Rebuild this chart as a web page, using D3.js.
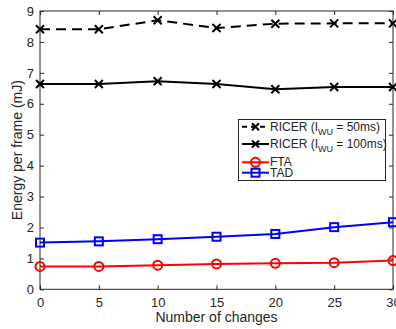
<!DOCTYPE html>
<html><head><meta charset="utf-8">
<script src="https://cdn.jsdelivr.net/npm/d3@7"></script>
<style>body{margin:0;background:#fff}svg{display:block;font-family:"Liberation Sans",Arial,sans-serif}</style>
</head><body><svg id="c" width="396" height="329"></svg>
<script>
const xValues = [0, 5, 10, 15, 20, 25, 30];
const ricer50 = [8.41, 8.41, 8.70, 8.45, 8.59, 8.60, 8.60];
const ricer100 = [6.64, 6.64, 6.73, 6.64, 6.47, 6.54, 6.54];
const fta = [0.74, 0.74, 0.78, 0.82, 0.84, 0.86, 0.93];
const tad = [1.51, 1.55, 1.62, 1.70, 1.79, 2.01, 2.17];
const xTicks = [0, 5, 10, 15, 20, 25, 30];
const yTicks = [0, 1, 2, 3, 4, 5, 6, 7, 8, 9];

const svg = d3.select("#c");
const L = 40, R = 393, T = 11, B = 289.3;
const x = d3.scaleLinear().domain([0, 30]).range([L, R]);
const y = d3.scaleLinear().domain([0, 9]).range([B, T]);
const axCol = "#262626";

// box
svg.append("rect").attr("x", L).attr("y", T).attr("width", R - L).attr("height", B - T)
  .attr("fill", "none").attr("stroke", axCol).attr("stroke-width", 1);

const tl = 4;
const gx = svg.append("g").attr("transform", `translate(0,${B})`)
  .call(d3.axisBottom(x).tickValues(xTicks).tickSizeInner(-tl).tickSizeOuter(0).tickPadding(8));
const gy = svg.append("g").attr("transform", `translate(${L},0)`)
  .call(d3.axisLeft(y).tickValues(yTicks).tickSizeInner(-tl).tickSizeOuter(0).tickPadding(6));
svg.append("g").attr("transform", `translate(0,${T})`)
  .call(d3.axisTop(x).tickValues(xTicks).tickSizeInner(-tl).tickSizeOuter(0).tickFormat(""));
svg.append("g").attr("transform", `translate(${R},0)`)
  .call(d3.axisRight(y).tickValues(yTicks).tickSizeInner(-tl).tickSizeOuter(0).tickFormat(""));
svg.selectAll(".domain").remove();
svg.selectAll(".tick line").attr("stroke", axCol);
svg.selectAll(".tick text").attr("fill", axCol).style("font-size", "13px")
  .style("font-family", "'Liberation Sans',Arial,sans-serif");

svg.append("text").attr("x", (L + R) / 2).attr("y", 322).attr("text-anchor", "middle")
  .attr("fill", axCol).style("font-size", "14px").text("Number of changes");
svg.append("text").attr("transform", `translate(22,${(T + B) / 2}) rotate(-90)`).attr("text-anchor", "middle")
  .attr("fill", axCol).style("font-size", "14px").text("Energy per frame (mJ)");

const line = d3.line().x((d, i) => x(xValues[i])).y(d => y(d));

function xMarker(g, cx, cy, s, col) {
  g.append("path").attr("d", `M${cx - s},${cy - s}L${cx + s},${cy + s}M${cx - s},${cy + s}L${cx + s},${cy - s}`)
    .attr("stroke", col).attr("stroke-width", 2).attr("fill", "none");
}
function circMarker(g, cx, cy, col) {
  g.append("circle").attr("cx", cx).attr("cy", cy).attr("r", 4.5).attr("fill", "none")
    .attr("stroke", col).attr("stroke-width", 2);
}
function sqMarker(g, cx, cy, col) {
  g.append("rect").attr("x", cx - 4).attr("y", cy - 4).attr("width", 8).attr("height", 8).attr("fill", "none")
    .attr("stroke", col).attr("stroke-width", 2);
}

const series = [
  { data: ricer50, col: "#000", dash: "10,6", m: "x" },
  { data: ricer100, col: "#000", dash: null, m: "x" },
  { data: fta, col: "#ff0000", dash: null, m: "o" },
  { data: tad, col: "#0000ff", dash: null, m: "s" }
];
const gs = svg.append("g");
series.forEach(s => {
  gs.append("path").datum(s.data).attr("d", line).attr("fill", "none").attr("stroke", s.col)
    .attr("stroke-width", 2).attr("stroke-dasharray", s.dash);
  s.data.forEach((v, i) => {
    const cx = x(xValues[i]), cy = y(v);
    if (s.m === "x") xMarker(gs, cx, cy, 4, s.col);
    else if (s.m === "o") circMarker(gs, cx, cy, s.col);
    else sqMarker(gs, cx, cy, s.col);
  });
});

// legend
const lg = svg.append("g");
lg.append("rect").attr("x", 238.5).attr("y", 119.5).attr("width", 147).attr("height", 61)
  .attr("fill", "#fff").attr("stroke", axCol).attr("stroke-width", 1);
const rows = [126.7, 144, 162.3, 172.7];
const labels = [["RICER (I", "WU", " = 50ms)"], ["RICER (I", "WU", " = 100ms)"], ["FTA"], ["TAD"]];
series.forEach((s, i) => {
  const yy = rows[i];
  lg.append("line").attr("x1", 242).attr("x2", 269).attr("y1", yy).attr("y2", yy)
    .attr("stroke", s.col).attr("stroke-width", 2).attr("stroke-dasharray", s.dash ? "5,4" : null);
  const cx = 255.5;
  if (s.m === "x") xMarker(lg, cx, yy, 3.5, s.col);
  else if (s.m === "o") circMarker(lg, cx, yy, s.col);
  else sqMarker(lg, cx, yy, s.col);
  const t = lg.append("text").attr("x", 270).attr("y", yy + 4).attr("fill", axCol).style("font-size", "12px");
  const lab = labels[i];
  t.append("tspan").text(lab[0]);
  if (lab.length > 1) {
    t.append("tspan").attr("dy", 4).style("font-size", "9px").text(lab[1]);
    t.append("tspan").attr("dy", -4).text(lab[2]);
  }
});
</script></body></html>
